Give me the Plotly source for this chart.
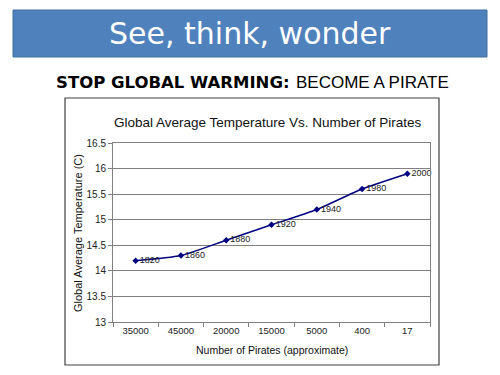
import plotly.graph_objects as go

pirates = ["35000", "45000", "20000", "15000", "5000", "400", "17"]
temps = [14.2, 14.3, 14.6, 14.9, 15.2, 15.6, 15.9]
years = ["1820", "1860", "1880", "1920", "1940", "1980", "2000"]
y_ticks = [13, 13.5, 14, 14.5, 15, 15.5, 16, 16.5]
y_tick_labels = ["13", "13.5", "14", "14.5", "15", "15.5", "16", "16.5"]

W, H = 500, 375
L, R, T, B = 113, 430, 143, 322


def px(x):
    return (x - L) / (R - L)


def py(y):
    return (B - y) / (B - T)


fig = go.Figure()
fig.add_trace(go.Scatter(
    x=pirates, y=temps, text=years,
    mode="lines+markers+text",
    textposition="middle right",
    textfont=dict(family="Liberation Sans", size=9, color="#222222"),
    line=dict(color="#000080", width=1.5, shape="spline", smoothing=0.6),
    marker=dict(symbol="diamond", size=5, color="#000080"),
    cliponaxis=False,
    hoverinfo="skip",
))

shapes = [
    # banner
    dict(type="rect", xref="paper", yref="paper",
         x0=px(13), x1=px(487), y0=py(10), y1=py(57),
         fillcolor="#4F81BD", line=dict(color="#41719C", width=1), layer="below"),
    # chart frame
    dict(type="rect", xref="paper", yref="paper",
         x0=px(65), x1=px(439), y0=py(98), y1=py(365),
         fillcolor="white", line=dict(color="#404040", width=1.2), layer="below"),
]

annotations = [
    dict(text="See, think, wonder", xref="paper", yref="paper",
         x=px(250), y=py(34), xanchor="center", yanchor="middle", showarrow=False,
         font=dict(family="DejaVu Sans", size=30, color="white")),
    dict(text="<b>STOP GLOBAL WARMING:</b>", xref="paper", yref="paper",
         x=px(292), y=py(83), xanchor="right", yanchor="middle", showarrow=False,
         font=dict(family="DejaVu Sans", size=16.5, color="black")),
    dict(text="BECOME A PIRATE", xref="paper", yref="paper",
         x=px(294), y=py(83), xanchor="left", yanchor="middle", showarrow=False,
         font=dict(family="Liberation Sans", size=17, color="black")),
    dict(text="Global Average Temperature Vs. Number of Pirates", xref="paper", yref="paper",
         x=px(267), y=py(122), xanchor="center", yanchor="middle", showarrow=False,
         font=dict(family="Liberation Sans", size=13.5, color="#111111")),
    dict(text="Number of Pirates (approximate)", xref="paper", yref="paper",
         x=px(272), y=py(350), xanchor="center", yanchor="middle", showarrow=False,
         font=dict(family="Liberation Sans", size=10.5, color="#111111")),
    dict(text="Global Average Temperature (C)", xref="paper", yref="paper",
         x=px(78), y=py(233), xanchor="center", yanchor="middle", showarrow=False,
         textangle=-90,
         font=dict(family="Liberation Sans", size=11, color="#111111")),
]

fig.update_layout(
    width=W, height=H,
    margin=dict(l=L, r=W - R, t=T, b=H - B),
    paper_bgcolor="white",
    plot_bgcolor="#C0C0C0",
    showlegend=False,
    shapes=shapes,
    annotations=annotations,
    xaxis=dict(
        type="category", tickson="boundaries", ticks="outside", ticklen=4,
        tickcolor="#808080", showgrid=False, showline=True, linecolor="#808080",
        linewidth=1, mirror=True, zeroline=False,
        tickfont=dict(family="Liberation Sans", size=9.5, color="#222222"),
        range=[-0.5, 6.5],
    ),
    yaxis=dict(
        range=[13, 16.5], tickvals=y_ticks, ticktext=y_tick_labels,
        ticks="outside", ticklen=4, tickcolor="#808080",
        showgrid=True, gridcolor="#7F7F7F", gridwidth=1,
        showline=True, linecolor="#808080", mirror=True, zeroline=False,
        tickfont=dict(family="Liberation Sans", size=10, color="#222222"),
    ),
)

fig.write_html("out.html", config={"displayModeBar": False},
               post_script="document.body.style.margin='0';")
